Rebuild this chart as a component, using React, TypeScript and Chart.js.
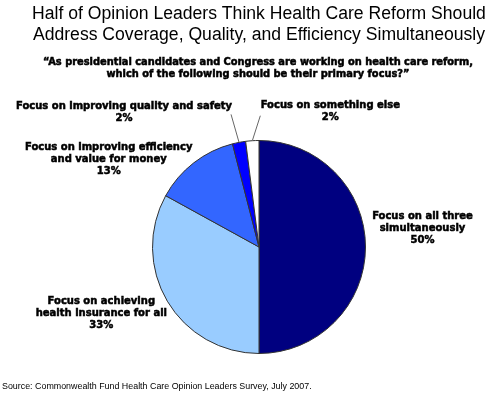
import React, { useEffect, useRef } from "react";
import { Chart, registerables } from "chart.js";

Chart.register(...registerables);

const titleLines = [
  "Half of Opinion Leaders Think Health Care Reform Should",
  "Address Coverage, Quality, and Efficiency Simultaneously",
];
const subtitleLines = [
  "\u201CAs presidential candidates and Congress are working on health care reform,",
  "which of the following should be their primary focus?\u201D",
];
const sourceText = "Source: Commonwealth Fund Health Care Opinion Leaders Survey, July 2007.";

const categories = [
  ["Focus on all three", "simultaneously"],
  ["Focus on achieving", "health insurance for all"],
  ["Focus on improving efficiency", "and value for money"],
  ["Focus on improving quality and safety"],
  ["Focus on something else"],
];
const values = [50, 33, 13, 2, 2];
const colors = ["#000080", "#99CCFF", "#3366FF", "#0000FF", "#FFFFFF"];

// label layout: offset from slice edge midpoint to label centre, and leader line end offset
const labelOffsets = [
  [57, -19],
  [-66, 12],
  [-85, -3],
  [-115, -30],
  [78, -29],
];
const leaderEnds: (number[] | null)[] = [null, null, null, [-8, -28], [8, -25]];

const LABEL_FONT = "bold 10px 'DejaVu Sans'";
const LINE_H = 12;

function boldText(ctx: CanvasRenderingContext2D, t: string, x: number, y: number) {
  ctx.strokeStyle = "#000";
  ctx.lineWidth = 0.5;
  ctx.strokeText(t, x, y);
  ctx.fillText(t, x, y);
}

const textPlugin = {
  id: "textPlugin",
  afterDraw(chart: any) {
    const ctx = chart.ctx;
    ctx.save();
    ctx.fillStyle = "#000";
    ctx.textAlign = "center";
    ctx.textBaseline = "middle";
    ctx.font = "17.6px 'Liberation Sans'";
    ctx.fillText(titleLines[0], 259, 14);
    ctx.fillText(titleLines[1], 259, 35);
    ctx.font = "bold 9.85px 'DejaVu Sans'";
    boldText(ctx, subtitleLines[0], 258, 62);
    boldText(ctx, subtitleLines[1], 258, 74);
    ctx.textAlign = "left";
    ctx.font = "8.9px 'Liberation Sans'";
    ctx.fillText(sourceText, 2, 387);

    const meta = chart.getDatasetMeta(0);
    meta.data.forEach((arc: any, i: number) => {
      const mid = (arc.startAngle + arc.endAngle) / 2;
      const ex = arc.x + Math.cos(mid) * arc.outerRadius;
      const ey = arc.y + Math.sin(mid) * arc.outerRadius;
      const le = leaderEnds[i];
      if (le) {
        ctx.strokeStyle = "#666";
        ctx.lineWidth = 1;
        ctx.beginPath();
        ctx.moveTo(ex, ey);
        ctx.lineTo(ex + le[0], ey + le[1]);
        ctx.stroke();
      }
      const lines = [...categories[i], values[i] + "%"];
      const cx = ex + labelOffsets[i][0];
      const cy = ey + labelOffsets[i][1];
      ctx.font = LABEL_FONT;
      ctx.textAlign = "center";
      ctx.fillStyle = "#000";
      const top = cy - ((lines.length - 1) * LINE_H) / 2;
      lines.forEach((l, j) => boldText(ctx, l, cx, top + j * LINE_H));
    });
    ctx.restore();
  },
};

export default function App() {
  const ref = useRef<HTMLCanvasElement>(null);
  useEffect(() => {
    const chart = new Chart(ref.current!, {
      type: "pie",
      data: {
        labels: categories.map((c) => c.join(" ")),
        datasets: [
          {
            data: values,
            backgroundColor: colors,
            borderColor: "#333333",
            borderWidth: 1,
          },
        ],
      },
      options: {
        responsive: false,
        animation: false,
        layout: { padding: { left: 152, right: 124, top: 140, bottom: 44 } },
        plugins: { legend: { display: false }, tooltip: { enabled: false } },
      },
      plugins: [textPlugin],
    });
    return () => chart.destroy();
  }, []);
  return (
    <canvas
      ref={ref}
      width={490}
      height={398}
      style={{ position: "absolute", left: 0, top: 0, width: 490, height: 398, background: "#fff" }}
    />
  );
}
